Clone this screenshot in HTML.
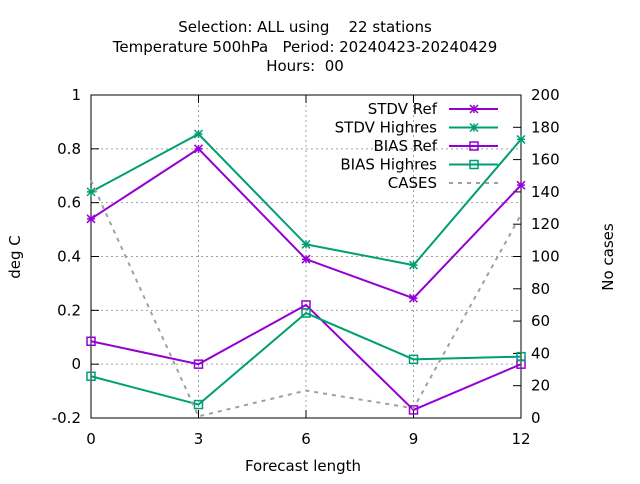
<!DOCTYPE html>
<html><head><meta charset="utf-8"><style>
body{margin:0;background:#fff;font-family:"DejaVu Sans",sans-serif}
svg text{font-family:"DejaVu Sans",sans-serif;font-size:15px;fill:#000}
</style></head><body>
<svg id="chart" width="640" height="480">
<g id="titles">
<text x="305" y="32" text-anchor="middle" xml:space="preserve">Selection: ALL using    22 stations</text>
<text x="305" y="52" text-anchor="middle" xml:space="preserve">Temperature 500hPa   Period: 20240423-20240429</text>
<text x="305" y="71" text-anchor="middle" xml:space="preserve">Hours:  00</text>
</g>
<text transform="translate(20,257) rotate(-90)" text-anchor="middle">deg C</text>
<text transform="translate(613,257) rotate(-90)" text-anchor="middle">No cases</text>
<text x="303" y="471" text-anchor="middle">Forecast length</text>
<g id="grid"></g><g id="axes"></g><g id="series"></g><g id="legend"></g>
</svg>
<script>
const categories=[0,3,6,9,12];
const stdvRef=[0.54,0.80,0.39,0.245,0.665];
const stdvHigh=[0.64,0.855,0.445,0.368,0.835];
const biasRef=[0.085,0.0,0.22,-0.17,0.0];
const biasHigh=[-0.045,-0.15,0.19,0.018,0.028];
const cases=[147,1,17,6,126];
const yTicks=[-0.2,0,0.2,0.4,0.6,0.8,1];
const yTickLabels=["-0.2","0","0.2","0.4","0.6","0.8","1"];
const y2Ticks=[0,20,40,60,80,100,120,140,160,180,200];
const NS="http://www.w3.org/2000/svg";
const L=91,R=521,T=95,B=418;
const xs=v=>L+(v-0)/(12-0)*(R-L);
const ys=v=>B-(v+0.2)/1.2*(B-T);
const y2s=v=>B-v/200*(B-T);
function mk(tag,attrs,parent){const e=document.createElementNS(NS,tag);for(const k in attrs)e.setAttribute(k,attrs[k]);parent.appendChild(e);return e;}
const grid=document.getElementById('grid'),axes=document.getElementById('axes'),series=document.getElementById('series'),legend=document.getElementById('legend');
yTicks.forEach((t,i)=>{const y=ys(t);
 if(i>0&&i<yTicks.length-1){const g=mk('line',{x1:L,x2:R,y1:y,y2:y,stroke:'#a0a0a0','stroke-dasharray':'2,3','stroke-width':1},grid);}
 mk('line',{x1:L,x2:L+8,y1:y,y2:y,stroke:'#000'},axes);
 const tx=mk('text',{x:L-10,y:y+5,'text-anchor':'end'},axes);tx.textContent=yTickLabels[i];
 
 
});
y2Ticks.forEach(t=>{const y=y2s(t);
 mk('line',{x1:R-8,x2:R,y1:y,y2:y,stroke:'#000'},axes);
 const tx=mk('text',{x:R+10,y:y+5,'text-anchor':'start'},axes);tx.textContent=t;
 
 
});
categories.forEach((c,i)=>{const x=xs(c);
 if(i>0&&i<categories.length-1){const g=mk('line',{x1:x,x2:x,y1:T,y2:B,stroke:'#a0a0a0','stroke-dasharray':'2,3'},grid);}
 mk('line',{x1:x,x2:x,y1:B,y2:B-8,stroke:'#000'},axes);mk('line',{x1:x,x2:x,y1:T,y2:T+8,stroke:'#000'},axes);
 const tx=mk('text',{x:x,y:B+26,'text-anchor':'middle'},axes);tx.textContent=c;
 
 
});
const fr=mk('rect',{x:L,y:T,width:R-L,height:B-T,fill:'none',stroke:'#000','stroke-width':1},axes);


function marker(g,type,x,y,col){
 if(type==='x'){mk('path',{d:`M${x-4},${y-4}L${x+4},${y+4}M${x-4},${y+4}L${x+4},${y-4}M${x},${y-4}L${x},${y+4}M${x-4},${y}L${x+4},${y}`,stroke:col,'stroke-width':1.5,fill:'none'},g);}
 else mk('rect',{x:x-4,y:y-4,width:8,height:8,fill:'none',stroke:col,'stroke-width':1.5},g);
}
const defs=[
 {name:'STDV Ref',vals:stdvRef,col:'#9400d3',m:'x',sc:ys},
 {name:'STDV Highres',vals:stdvHigh,col:'#009e73',m:'x',sc:ys},
 {name:'BIAS Ref',vals:biasRef,col:'#9400d3',m:'s',sc:ys},
 {name:'BIAS Highres',vals:biasHigh,col:'#009e73',m:'s',sc:ys},
 {name:'CASES',vals:cases,col:'#a0a0a0',m:null,sc:y2s,dash:'4,5'}
];
defs.forEach((d,k)=>{
 const g=mk('g',{},series);
 
 
 const pts=d.vals.map((v,i)=>xs(categories[i])+','+d.sc(v)).join(' ');
 const a={points:pts,fill:'none',stroke:d.col,'stroke-width':2};if(d.dash)a['stroke-dasharray']=d.dash;
 mk('polyline',a,g);
 if(d.m)d.vals.forEach((v,i)=>marker(g,d.m,xs(categories[i]),d.sc(v),d.col));
 const ly=109+k*18.5;
 const le=mk('g',{},legend);
 
 
 const t=mk('text',{x:437,y:ly+5,'text-anchor':'end'},le);t.textContent=d.name;
 const la={x1:449,x2:498,y1:ly,y2:ly,stroke:d.col,'stroke-width':2};if(d.dash)la['stroke-dasharray']=d.dash;
 mk('line',la,le);
 if(d.m)marker(le,d.m,474,ly,d.col);
});
</script>
</body></html>
